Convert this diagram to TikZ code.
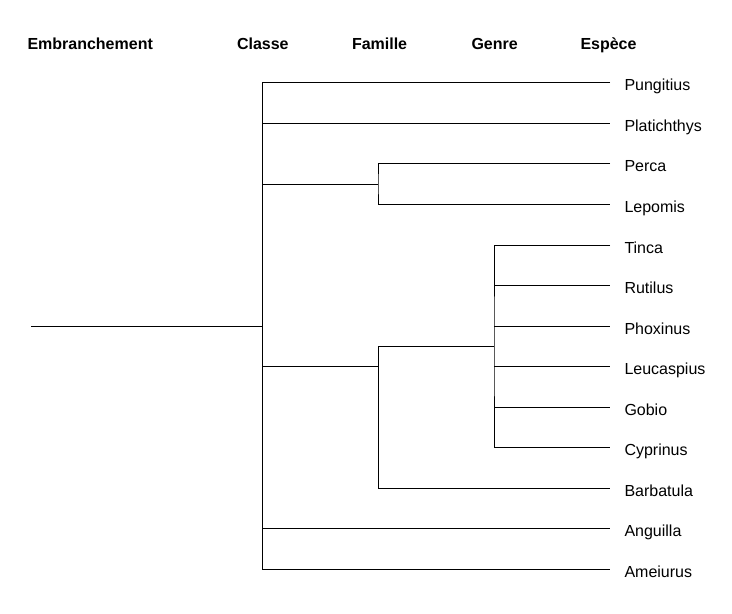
\documentclass[tikz,border=0pt]{standalone}
\usepackage{fontspec}
\setmainfont{Liberation Sans}
\newcommand\leaffont{\fontsize{16bp}{19bp}\selectfont}
\newcommand\headfont{\fontsize{16bp}{19bp}\selectfont\bfseries}
\begin{document}
\begin{tikzpicture}[x=1bp,y=-1bp,line width=1bp,
  leaf/.style={anchor=base west,inner sep=0pt,font=\leaffont},
  head/.style={anchor=base west,inner sep=0pt,font=\headfont}]
\useasboundingbox (0,0) rectangle (732,614);
% headers
\node[head] (hE) at (27,50) {Embranchement};
\node[head] (hC) at (236.5,50) {Classe};
\node[head] (hF) at (351.5,50) {Famille};
\node[head] (hG) at (471,50) {Genre};
\node[head] (hS) at (580,49.3) {Espèce};
% leaf ends and labels
\foreach \n/\t [count=\i from 0] in {e1/Pungitius,e2/Platichthys,e3/Perca,e4/Lepomis,e5/Tinca,e6/Rutilus,e7/Phoxinus,e8/Leucaspius,e9/Gobio,e10/Cyprinus,e11/Barbatula,e12/Anguilla,e13/Ameiurus}{
  \coordinate (\n) at (610,{83+40.5*\i});
  \node[leaf] (t\n) at (624,{91+40.5*\i}) {\t};
}
% internal points
\coordinate (root) at (31,326);
\coordinate (cls) at (262,326);
\coordinate (f1) at (378,184.25);
\coordinate (f2) at (378,366.5);
\coordinate (g) at (494,346.25);
% class level
\draw (root) -- (cls);
\draw (e1) -- (e1 -| cls) -- (e13 -| cls) -- (e13);
\draw (cls |- e2) -- (e2);
\draw (cls |- e12) -- (e12);
% Percidae
\draw (cls |- f1) -- (f1);
\draw (e3) -| (f1) |- (e4);
% Cyprinidae
\draw (cls |- f2) -- (f2);
\draw (g) -- (g -| f2) -- (f2 |- e11) -- (e11);
\draw (e5) -| (g) |- (e10);
\foreach \n in {e6,e7,e8,e9}{\draw (g |- \n) -- (\n);}
\end{tikzpicture}
\end{document}
